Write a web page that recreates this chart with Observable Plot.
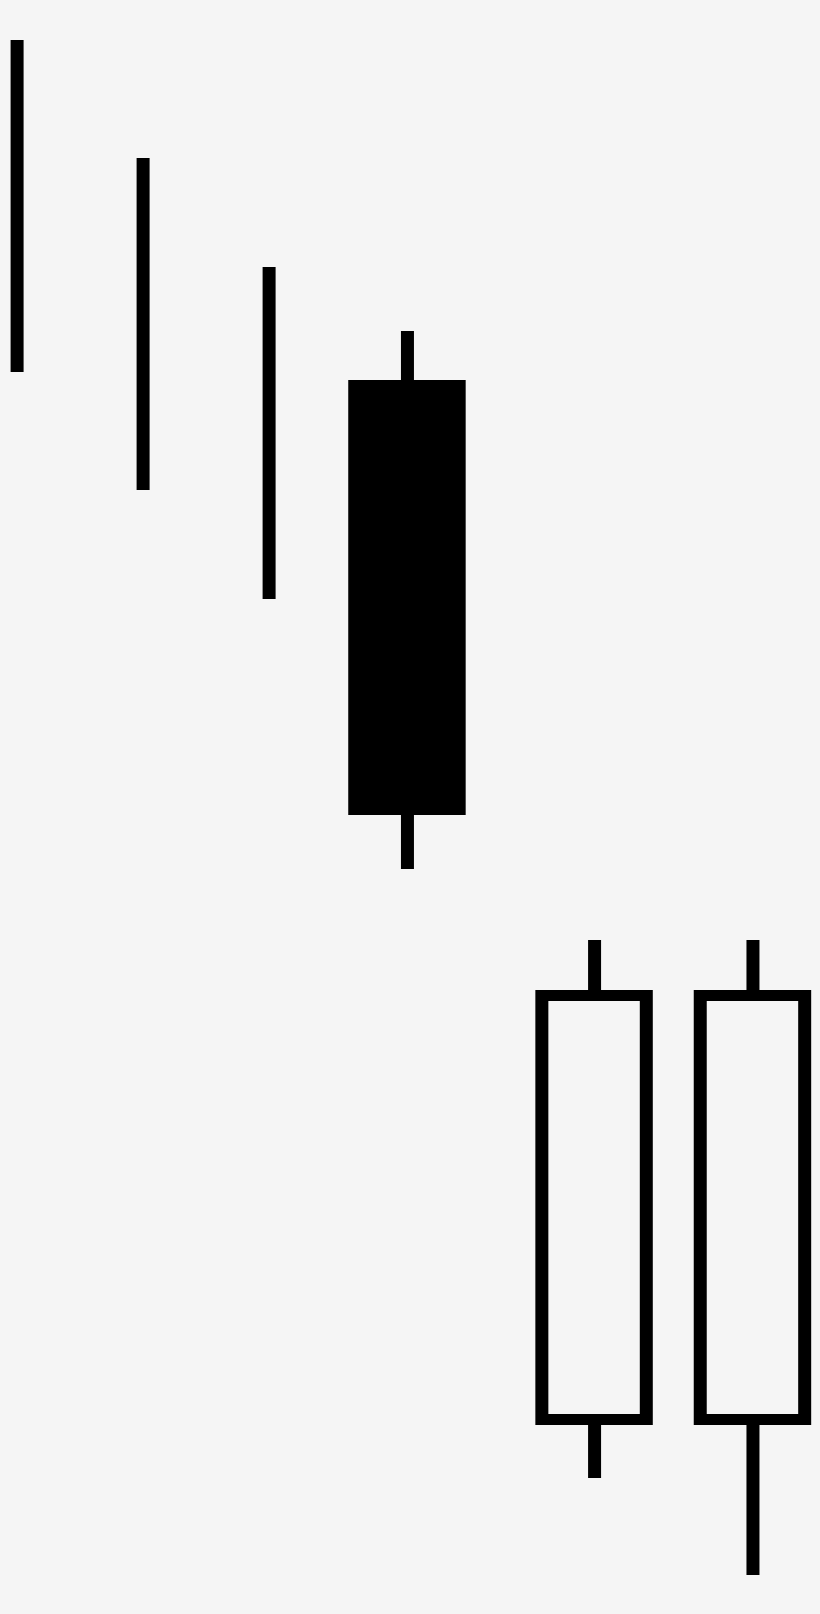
<!DOCTYPE html>
<html>
<head>
<meta charset="utf-8">
<script src="https://cdn.jsdelivr.net/npm/d3@7"></script>
<script src="https://cdn.jsdelivr.net/npm/@observablehq/plot@0.6"></script>
<style>
  html, body { margin: 0; padding: 0; background: #f5f5f5; }
  svg { display: block; }
</style>
</head>
<body>
<div id="chart"></div>
<script>
// Time positions (in bar-spacing units) and price levels
const positions = [0, 1, 2, 3.098, 4.583, 5.84];
const highs     = [157.4, 145.6, 134.7, 128.3, 67.4, 67.4];
const lows      = [124.2, 112.4, 101.5, 74.5, 13.6, 3.9];
// Candle bodies (null = no body, plain bar)
const opens     = [null, null, null, 123.4, 18.9, 18.9];
const closes    = [null, null, null, 79.9, 62.4, 62.4];
const kinds     = ["bar", "bar", "bar", "filled", "hollow", "hollow"];

const data = positions.map((p, i) => ({
  x: p, high: highs[i], low: lows[i], open: opens[i], close: closes[i], kind: kinds[i]
}));
const bodies = data.filter(d => d.kind !== "bar");
const hollow = data.filter(d => d.kind === "hollow");

const halfBody = 0.466; // half body width in bar-spacing units
const bg = "#f5f5f5";

const chart = Plot.plot({
  width: 820,
  height: 1614,
  margin: 0,
  style: { background: bg },
  x: { type: "linear", domain: [-0.1317, 6.376], axis: null },
  y: { type: "linear", domain: [0, 161.4], axis: null },
  marks: [
    Plot.ruleX(data, { x: "x", y1: "low", y2: "high", stroke: "black", strokeWidth: 13 }),
    Plot.rect(bodies, {
      x1: d => d.x - halfBody, x2: d => d.x + halfBody,
      y1: "open", y2: "close", fill: "black"
    }),
    Plot.rect(hollow, {
      x1: d => d.x - halfBody, x2: d => d.x + halfBody,
      y1: "open", y2: "close", fill: bg,
      insetLeft: 13, insetRight: 13, insetTop: 11, insetBottom: 11
    })
  ]
});
document.getElementById("chart").append(chart);
</script>
</body>
</html>
